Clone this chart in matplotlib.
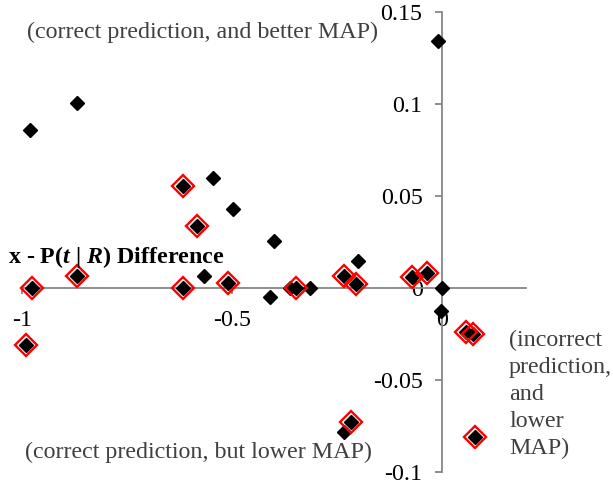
import matplotlib
matplotlib.use('Agg')
import matplotlib.pyplot as plt
import numpy as np

plt.rcParams['font.family'] = ['Liberation Serif', 'DejaVu Serif']
plt.rcParams['axes.unicode_minus'] = False
plt.rcParams['mathtext.fontset'] = 'custom'
plt.rcParams['mathtext.it'] = 'Liberation Serif:italic:bold'
plt.rcParams['mathtext.rm'] = 'Liberation Serif:bold'

# all queries (black diamonds)
all_x = [-0.980, -0.869, -0.010, -0.617, -0.544, -0.582, -0.498, -0.399, -0.199,
         -0.976, -0.868, -0.566, -0.617, -0.510, -0.410, -0.361, -0.347, -0.314,
         -0.234, -0.204, -0.071, -0.036, 0.0, -0.002, 0.058, 0.075, -0.990,
         -0.217, -0.233, 0.079]
all_y = [0.0857, 0.1005, 0.1342, 0.0553, 0.0595, 0.0335, 0.0429, 0.0255, 0.0145,
         0.0, 0.0064, 0.0065, 0.0, 0.0024, -0.0049, 0.0, 0.0, 0.0,
         0.0064, 0.0018, 0.0060, 0.0078, 0.0, -0.0125, -0.0239, -0.0253, -0.0311,
         -0.0728, -0.0783, -0.0813]

# highlighted queries (red hollow diamonds)
hl_x = [-0.617, -0.582, -0.976, -0.868, -0.617, -0.510, -0.347, -0.234, -0.204,
        -0.071, -0.036, 0.058, 0.075, -0.990, -0.217, 0.079]
hl_y = [0.0553, 0.0335, 0.0, 0.0064, 0.0, 0.0024, 0.0, 0.0064, 0.0018,
        0.0060, 0.0078, -0.0239, -0.0253, -0.0311, -0.0728, -0.0813]

xticks = [-1, -0.5, 0]
xtick_labels = ['-1', '-0.5', '0']
yticks = [-0.1, -0.05, 0, 0.05, 0.1, 0.15]
ytick_labels = ['-0.1', '-0.05', '0', '0.05', '0.1', '0.15']

W, H = 613, 483
fig = plt.figure(figsize=(W / 100, H / 100), dpi=100)
ax = fig.add_axes([21.7 / W, 11.3 / H, 504.3 / W, 460 / H])

axis_color = '#868686'
ax.set_xlim(-1, 0.2)
ax.set_ylim(-0.1, 0.15)
for s in ['top', 'right']:
    ax.spines[s].set_visible(False)
ax.spines['left'].set_position(('data', 0))
ax.spines['bottom'].set_position(('data', 0))
for s in ['left', 'bottom']:
    ax.spines[s].set_color(axis_color)
    ax.spines[s].set_linewidth(1.3)

ax.set_xticks(xticks)
ax.set_xticklabels(xtick_labels)
ax.set_yticks(yticks)
ax.set_yticklabels(ytick_labels)
ax.tick_params(axis='both', direction='out', color=axis_color, width=1.3,
               labelsize=17.3, labelcolor='black')
ax.tick_params(axis='x', length=4, pad=12)
ax.tick_params(axis='y', length=5, pad=9)

ax.plot(all_x, all_y, 'D', color='black', markersize=7, linestyle='none',
        clip_on=False, zorder=5)
ax.plot(hl_x, hl_y, 'D', markerfacecolor='none', markeredgecolor='#ff0000',
        markeredgewidth=1.7, markersize=11.5, linestyle='none',
        clip_on=False, zorder=6)

txt_color = '#404040'
fig.text(27 / W, 1 - 38 / H, '(correct prediction, and better MAP)',
         fontsize=17.3, color=txt_color, va='baseline', ha='left')
fig.text(25 / W, 1 - 458 / H, '(correct prediction, but lower MAP)',
         fontsize=17.3, color=txt_color, va='baseline', ha='left')
fig.text(509 / W, 1 - 330 / H, '(incorrect\nprediction,\nand\nlower\nMAP)',
         fontsize=17.3, color=txt_color, va='top', ha='left', linespacing=1.37)
fig.text(8 / W, 1 - 263 / H, r'x - P($\mathit{t}$ | $\mathit{R}$) Difference',
         fontsize=17.3, fontweight='bold', color='black', va='baseline', ha='left')

fig.savefig('out.png', dpi=100)
